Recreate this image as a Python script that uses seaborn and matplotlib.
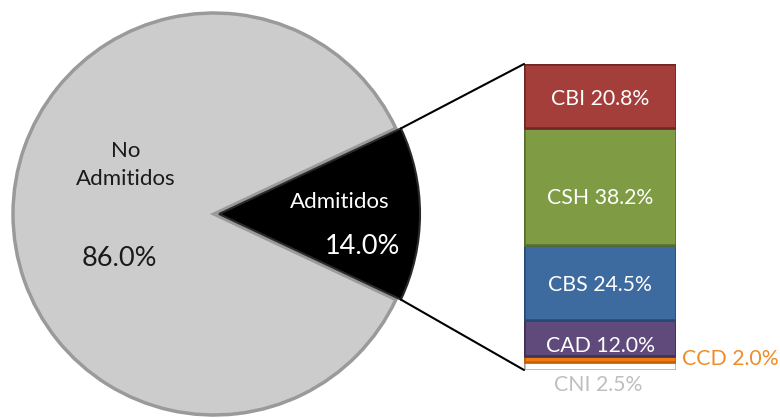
import matplotlib
matplotlib.use("Agg")
import math
import matplotlib.pyplot as plt
import seaborn as sns
import pandas as pd
from matplotlib.patches import ConnectionPatch

# ---- data ----
pie_labels = ["No\nAdmitidos", "Admitidos"]
pie_values = [86.0, 14.0]
pie_colors = ["#cccccc", "#000000"]

bar_labels = ["CNI", "CCD", "CAD", "CBS", "CSH", "CBI"]
bar_values = [2.5, 2.0, 12.0, 24.5, 38.2, 20.8]
bar_colors = ["#ffffff", "#f07c10", "#604a7b", "#3e6b9f", "#7f9c45", "#a33e3b"]
bar_edges = ["#a6a6a6", "#c0600a", "#3f3052", "#284a72", "#56702c", "#6e2523"]

sns.set_theme(style="white")
plt.rcParams["font.family"] = ["Lato", "DejaVu Sans"]

W, H = 780, 418
fig = plt.figure(figsize=(W / 100, H / 100), dpi=100)

def px_axes(x0, y0, w, h):
    return fig.add_axes([x0 / W, (H - y0 - h) / H, w / W, h / H])

# ---- pie ----
R = 201
cx, cy = 214, 214
lim = 1.1
explode_b = 0.025
ax_pie = px_axes(cx - lim * R, cy - lim * R, 2 * lim * R, 2 * lim * R)
wedges, _ = ax_pie.pie(pie_values, colors=pie_colors, startangle=25.2,
                       explode=[0, explode_b], counterclock=True,
                       wedgeprops=dict(edgecolor="#9a9a9a", linewidth=2.5))
wedges[1].set_edgecolor("#2a2a2a")
wedges[1].set_linewidth(1.5)
ax_pie.set_xlim(-lim, lim)
ax_pie.set_ylim(-lim, lim)
ax_pie.axis("off")

def pie_text(px, py, s, **kw):
    ax_pie.text((px - cx) / R, (cy - py) / R, s, ha="center", va="center", **kw)

pie_text(126, 165, pie_labels[0], color="#1a1a1a", fontsize=16, linespacing=1.45)
pie_text(119, 259, f"{pie_values[0]:.1f}%", color="#1a1a1a", fontsize=19.5)
pie_text(340, 202, pie_labels[1], color="white", fontsize=16)
pie_text(362, 246, f"{pie_values[1]:.1f}%", color="white", fontsize=19.5)

# ---- stacked bar ----
bx0, by0, bw, bh = 524, 64, 152, 306
px_per_unit = bh / 100
label_shift_px = {"CSH": 9, "CAD": 5}
ax_bar = px_axes(bx0, by0, bw, bh)
bottom = 0.0
for lab, val, col, ec in zip(bar_labels, bar_values, bar_colors, bar_edges):
    df = pd.DataFrame({"g": ["s"], "v": [val]})
    sns.barplot(data=df, x="g", y="v", bottom=bottom, color=col,
                edgecolor=ec, linewidth=1.8, saturation=1, width=0.8, ax=ax_bar)
    mid = bottom + val / 2
    txt = f"{lab} {val:.1f}%"
    if lab == "CCD":
        ax_bar.text(0.43, mid, txt, color="#f08c28", fontsize=15.3,
                    ha="left", va="center", clip_on=False)
    elif lab == "CNI":
        ax_bar.text(-0.01, -4.8, txt, color="#bfbfbf", fontsize=15.3,
                    ha="center", va="center", clip_on=False)
    else:
        shift = label_shift_px.get(lab, 0) / px_per_unit
        ax_bar.text(0, mid - 1.0 - shift, txt, color="white", fontsize=15.3,
                    ha="center", va="center")
    bottom += val
ax_bar.set_xlim(-0.4, 0.4)
ax_bar.set_ylim(0, 100)
ax_bar.axis("off")

# ---- connector lines ----
half = math.radians(pie_values[1] / 100 * 360 / 2)
for sgn, yb in [(1, 100), (-1, 0)]:
    pA = (explode_b + math.cos(half), sgn * math.sin(half))
    con = ConnectionPatch(xyA=pA, coordsA=ax_pie.transData,
                          xyB=(-0.4, yb), coordsB=ax_bar.transData,
                          color="black", linewidth=1.5)
    fig.add_artist(con)

fig.savefig("out.png", dpi=100)
